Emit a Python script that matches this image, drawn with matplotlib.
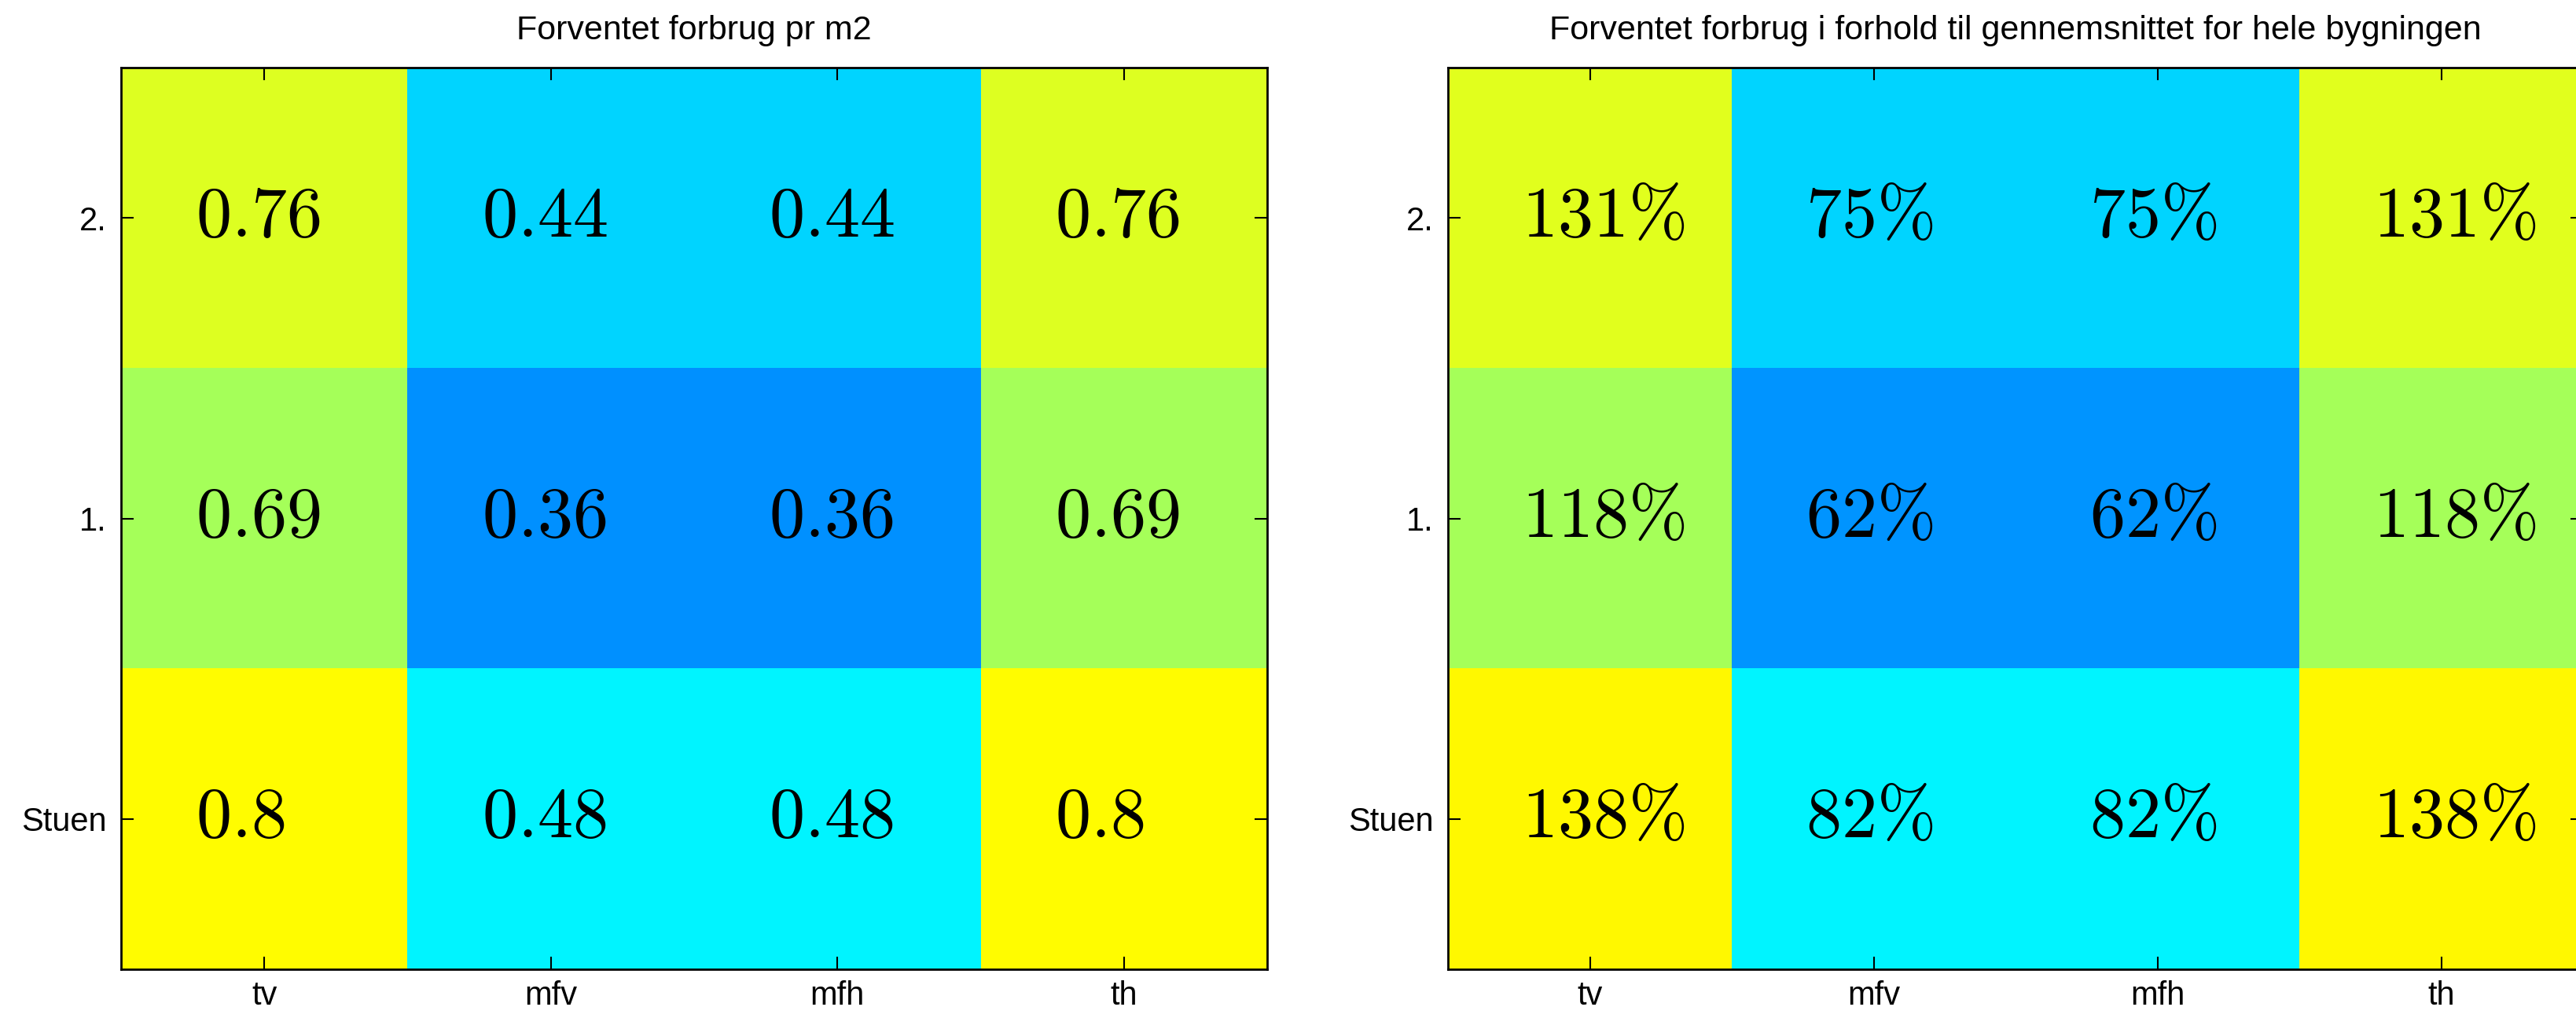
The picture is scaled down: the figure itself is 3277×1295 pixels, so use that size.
import matplotlib
matplotlib.use("Agg")
import matplotlib.pyplot as plt
import numpy as np
from matplotlib.colors import LinearSegmentedColormap, Normalize

# data (rows listed top to bottom)
floors = ["2.", "1.", "Stuen"]
rooms = ["tv", "mfv", "mfh", "th"]
per_m2 = [[0.76, 0.44, 0.44, 0.76],
          [0.69, 0.36, 0.36, 0.69],
          [0.8, 0.48, 0.48, 0.8]]
pct_of_mean = [[131, 75, 75, 131],
               [118, 62, 62, 118],
               [138, 82, 82, 138]]

plt.rcParams['font.family'] = ['Liberation Sans', 'DejaVu Sans']
plt.rcParams['mathtext.fontset'] = 'cm'

# matlab style jet
jet = LinearSegmentedColormap.from_list("mjet", [
    (0.0, (0, 0, 0.5)), (0.125, (0, 0, 1)), (0.375, (0, 1, 1)),
    (0.625, (1, 1, 0)), (0.875, (1, 0, 0)), (1.0, (0.5, 0, 0))])

fig = plt.figure(figsize=(32.77, 12.95), dpi=100)
ax1 = fig.add_axes([154/3277, 1-1233/1295, 1458/3277, 1147/1295])
ax2 = fig.add_axes([1842/3277, 1-1233/1295, 1444/3277, 1147/1295])


def heat(ax, vals, norm, fmt, title):
    vals = np.array(vals)
    ax.imshow(vals, cmap=jet, norm=norm, aspect='auto', interpolation='nearest',
              extent=(0.5, 4.5, 0.5, 3.5))
    nr, nc = vals.shape
    for i in range(nr):
        for j in range(nc):
            ax.text(j + 1 - 0.24, nr - i, fmt(vals[i, j]), ha='left', va='center',
                    fontsize=65)
    ax.set_xlim(0.5, 4.5)
    ax.set_ylim(0.5, 3.5)
    ax.set_xticks(range(1, 5))
    ax.set_xticklabels(rooms)
    ax.set_yticks(range(1, 4))
    ax.set_yticklabels(floors[::-1])
    ax.tick_params(direction='in', length=11.5, width=1.5, top=True, right=True,
                   labelsize=30)
    ax.tick_params(axis='y', pad=13)
    ax.tick_params(axis='x', pad=10)
    for s in ax.spines.values():
        s.set_linewidth(2)
    ax.set_title(title, fontsize=31, pad=26)


heat(ax1, per_m2, Normalize(0.03, 1.26), lambda v: r'$%g$' % v,
     "Forventet forbrug pr m2")
heat(ax2, pct_of_mean, Normalize(4, 217), lambda v: r'$%d\%%$' % v,
     "Forventet forbrug i forhold til gennemsnittet for hele bygningen")

fig.savefig("out.png", dpi=100)
